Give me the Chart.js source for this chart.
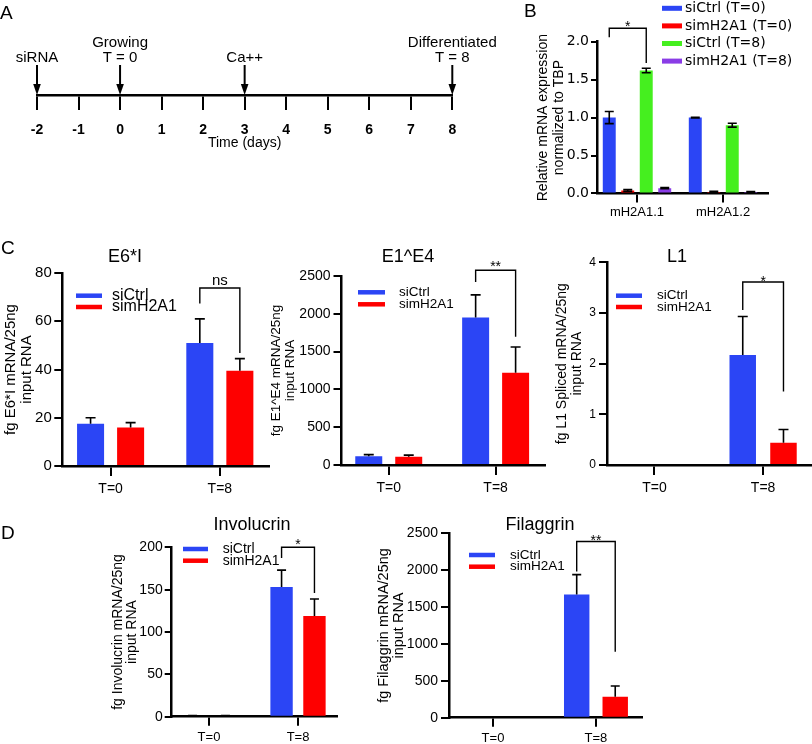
<!DOCTYPE html>
<html>
<head>
<meta charset="utf-8">
<script src="https://cdn.jsdelivr.net/npm/chart.js@4"></script>
<style>
  body { margin: 0; background: #fff; }
  #page { position: relative; width: 812px; height: 744px; overflow: hidden; background: #fff; }
  canvas { position: absolute; left: 0; top: 0; }
  .tag { position: absolute; font: 19px/19px Arial, "Liberation Sans", sans-serif; color: #000; }
</style>
</head>
<body>
<div id="page">
  <canvas id="timeline" width="812" height="744"></canvas>
  <canvas id="mh2a1" width="812" height="744"></canvas>
  <canvas id="e6" width="812" height="744"></canvas>
  <canvas id="e1e4" width="812" height="744"></canvas>
  <canvas id="l1" width="812" height="744"></canvas>
  <canvas id="inv" width="812" height="744"></canvas>
  <canvas id="fil" width="812" height="744"></canvas>
  <div class="tag" style="left:0px;top:2.5px">A</div>
  <div class="tag" style="left:524px;top:0.8px">B</div>
  <div class="tag" style="left:1px;top:238px">C</div>
  <div class="tag" style="left:1px;top:522.5px">D</div>
</div>
<script>
// A: timeline
const days = [-2, -1, 0, 1, 2, 3, 4, 5, 6, 7, 8];
const eventDays = [-2, 0, 3, 8];
const eventNotes = [['siRNA'], ['Growing', 'T = 0'], ['Ca++'], ['Differentiated', 'T = 8']];

// B: mH2A1 knockdown
const genes = ['mH2A1.1', 'mH2A1.2'];
const bLabels = ['siCtrl (T=0)', 'simH2A1 (T=0)', 'siCtrl (T=8)', 'simH2A1 (T=8)'];
const bCtrl0 = [1.0, 1.0], bCtrl0Err = [0.08, 0.005];
const bKd0 = [0.04, 0.02], bKd0Err = [0.012, 0.008];
const bCtrl8 = [1.62, 0.9], bCtrl8Err = [0.03, 0.025];
const bKd8 = [0.07, 0.02], bKd8Err = [0.008, 0.006];
const bTicks = [0, 0.5, 1, 1.5, 2];

// C and D
const times = ['T=0', 'T=8'];
const groups = ['siCtrl', 'simH2A1'];
const e6Ctrl = [17.5, 51], e6CtrlErr = [2.5, 10], e6Kd = [16, 39.5], e6KdErr = [2, 5];
const e6Ticks = [0, 20, 40, 60, 80];
const e1Ctrl = [115, 1950], e1CtrlErr = [22, 300], e1Kd = [110, 1220], e1KdErr = [20, 340];
const e1Ticks = [0, 500, 1000, 1500, 2000, 2500];
const l1Ctrl = [0, 2.17], l1CtrlErr = [0, 0.76], l1Kd = [0, 0.44], l1KdErr = [0, 0.26];
const l1Ticks = [0, 1, 2, 3, 4];
const invCtrl = [1, 153], invCtrlErr = [0.5, 20], invKd = [1, 119], invKdErr = [0.5, 20];
const invTicks = [0, 50, 100, 150, 200];
const filCtrl = [0, 1670], filCtrlErr = [0, 270], filKd = [0, 285], filKdErr = [0, 145];
const filTicks = [0, 500, 1000, 1500, 2000, 2500];

const blue = '#2b45f5', red = '#fe0000', green = '#45ef1f', purple = '#8a3ce6';
const FAM = 'Arial, "Liberation Sans", sans-serif';
const W = 812, H = 744;

Chart.defaults.font.family = FAM;
Chart.defaults.color = '#000';

// error bars, brackets, line legends, free texts, timeline arrows
const extras = {
  id: 'extras',
  afterDatasetsDraw(chart, args, o) {
    if (!o.cap) return;
    const ctx = chart.ctx, y = chart.scales.y;
    ctx.save();
    ctx.strokeStyle = '#000';
    ctx.lineWidth = 1.6;
    chart.data.datasets.forEach((ds, d) => {
      if (!ds.errors) return;
      chart.getDatasetMeta(d).data.forEach((bar, i) => {
        const v = ds.data[i].y, e = ds.errors[i];
        if (!e) return;
        const top = y.getPixelForValue(v + e);
        const bot = o.both ? y.getPixelForValue(v - e) : bar.y;
        ctx.beginPath();
        ctx.moveTo(bar.x, bot);
        ctx.lineTo(bar.x, top);
        ctx.moveTo(bar.x - o.cap / 2, top);
        ctx.lineTo(bar.x + o.cap / 2, top);
        if (o.both) {
          ctx.moveTo(bar.x - o.cap / 2, bot);
          ctx.lineTo(bar.x + o.cap / 2, bot);
        }
        ctx.stroke();
      });
    });
    ctx.restore();
  },
  afterDraw(chart, args, o) {
    const ctx = chart.ctx;
    ctx.save();
    (o.brackets || []).forEach(b => {
      const y = chart.scales.y;
      const p = chart.getDatasetMeta(b.from[0]).data[b.from[1]];
      const q = chart.getDatasetMeta(b.to[0]).data[b.to[1]];
      const top = y.getPixelForValue(b.top);
      ctx.strokeStyle = '#000';
      ctx.lineWidth = 1.4;
      ctx.beginPath();
      ctx.moveTo(p.x, y.getPixelForValue(b.ends[0]));
      ctx.lineTo(p.x, top);
      ctx.lineTo(q.x, top);
      ctx.lineTo(q.x, y.getPixelForValue(b.ends[1]));
      ctx.stroke();
      ctx.fillStyle = '#000';
      ctx.font = b.font || '14px ' + FAM;
      ctx.textAlign = 'center';
      ctx.textBaseline = 'alphabetic';
      ctx.fillText(b.text, (p.x + q.x) / 2, top + b.dy);
    });
    if (o.legend) {
      const L = o.legend;
      ctx.font = L.font;
      ctx.textAlign = 'left';
      ctx.textBaseline = 'middle';
      chart.data.datasets.forEach((ds, i) => {
        const yy = L.y + i * L.dy;
        ctx.fillStyle = ds.backgroundColor;
        ctx.fillRect(L.x, yy - L.thick / 2, L.len, L.thick);
        ctx.fillStyle = '#000';
        ctx.fillText(ds.label, L.textX, yy);
      });
    }
    (o.texts || []).forEach(t => {
      ctx.fillStyle = '#000';
      ctx.font = t.font;
      ctx.textAlign = 'center';
      ctx.textBaseline = 'alphabetic';
      ctx.fillText(t.text, t.x, t.y);
    });
    if (o.arrows) {
      const A = o.arrows;
      chart.data.datasets.forEach((ds, d) => {
        chart.getDatasetMeta(d).data.forEach((pt, i) => {
          const x = pt.x, y0 = pt.y;
          ctx.strokeStyle = '#000';
          ctx.lineWidth = 2;
          ctx.beginPath();
          ctx.moveTo(x, y0 - A.len);
          ctx.lineTo(x, y0 - A.head + 1);
          ctx.stroke();
          ctx.fillStyle = '#000';
          ctx.beginPath();
          ctx.moveTo(x - A.half, y0 - A.head);
          ctx.lineTo(x + A.half, y0 - A.head);
          ctx.lineTo(x, y0);
          ctx.closePath();
          ctx.fill();
          ctx.font = A.font;
          ctx.textAlign = 'center';
          ctx.textBaseline = 'alphabetic';
          const notes = ds.notes[i];
          notes.forEach((t, k) => {
            ctx.fillText(t, x, y0 - A.textGap - (notes.length - 1 - k) * A.lineGap);
          });
        });
      });
    }
    ctx.restore();
  }
};
Chart.register(extras);

function bars(id, o) {
  return new Chart(document.getElementById(id), {
    type: 'bar',
    data: {
      datasets: o.series.map(s => ({
        label: s.label,
        data: s.values.map((v, i) => ({ x: i, y: v })),
        errors: s.errors,
        backgroundColor: s.color,
        borderWidth: 0,
        categoryPercentage: o.cat,
        barPercentage: o.bar
      }))
    },
    options: {
      responsive: false,
      animation: false,
      devicePixelRatio: 1,
      layout: {
        padding: { left: o.area[0] - o.yW, top: o.area[1], right: W - o.area[2], bottom: H - o.area[3] - o.xH }
      },
      plugins: { legend: { display: false }, tooltip: { enabled: false }, extras: o.extras },
      scales: {
        x: {
          type: 'linear',
          min: o.xRange[0],
          max: o.xRange[1],
          offset: false,
          afterBuildTicks: s => { s.ticks = o.cats.map((c, i) => ({ value: i })); },
          afterFit: s => { s.height = o.xH; },
          grid: { offset: false, drawOnChartArea: false, color: '#000', lineWidth: 2, tickLength: o.xTick },
          border: { color: '#000', width: 2.5 },
          ticks: { font: { size: o.xFont }, padding: o.xPad, autoSkip: false, maxRotation: 0, callback: v => o.cats[v] }
        },
        y: {
          min: o.yTicks[0],
          max: o.yTicks[o.yTicks.length - 1],
          afterBuildTicks: s => { s.ticks = o.yTicks.map(v => ({ value: v })); },
          afterFit: s => { s.width = o.yW; },
          grid: { drawOnChartArea: false, color: '#000', lineWidth: 2, tickLength: o.yTick },
          border: { color: '#000', width: 2.5 },
          ticks: { font: o.yFont, padding: o.yPad, callback: o.fmt || (v => String(v)) },
          title: { display: true, text: o.yTitle, font: o.titleFont, padding: 0 }
        }
      }
    }
  });
}

// A
new Chart(document.getElementById('timeline'), {
  type: 'scatter',
  data: {
    datasets: [{ label: 'events', data: eventDays.map(d => ({ x: d, y: 0 })), notes: eventNotes, pointRadius: 0 }]
  },
  options: {
    responsive: false,
    animation: false,
    devicePixelRatio: 1,
    layout: { padding: { left: 37, top: 30, right: W - 452.3, bottom: H - 95 - 57 } },
    plugins: {
      legend: { display: false },
      tooltip: { enabled: false },
      extras: { arrows: { len: 30, head: 11, half: 3.8, textGap: 33, lineGap: 15, font: '15px ' + FAM } }
    },
    scales: {
      x: {
        type: 'linear',
        min: days[0],
        max: days[days.length - 1],
        afterBuildTicks: s => { s.ticks = days.map(v => ({ value: v })); },
        afterFit: s => { s.height = 57; },
        grid: { drawOnChartArea: false, color: '#000', lineWidth: 2, tickLength: 15 },
        border: { color: '#000', width: 2.5 },
        ticks: { font: { size: 14, weight: 'bold' }, padding: 11.5, autoSkip: false, maxRotation: 0, callback: v => String(v) },
        title: { display: true, text: 'Time (days)', font: { size: 14 }, padding: 0 }
      },
      y: { display: false, min: 0, max: 1 }
    }
  }
});

// B
bars('mh2a1', {
  cats: genes,
  series: [
    { label: bLabels[0], values: bCtrl0, errors: bCtrl0Err, color: blue },
    { label: bLabels[1], values: bKd0, errors: bKd0Err, color: red },
    { label: bLabels[2], values: bCtrl8, errors: bCtrl8Err, color: green },
    { label: bLabels[3], values: bKd8, errors: bKd8Err, color: purple }
  ],
  area: [597, 41.7, 768, 193.5], yW: 62, xH: 30,
  xRange: [-0.465, 1.523], cat: 0.86, bar: 0.70,
  yTicks: bTicks, fmt: v => v.toFixed(1),
  yTick: 6, yPad: 2, yFont: { family: '"DejaVu Sans", sans-serif', size: 14 },
  xTick: 9, xPad: 2, xFont: 13,
  yTitle: ['Relative mRNA expression', 'normalized to TBP'], titleFont: { size: 14, lineHeight: 1.143 },
  extras: {
    cap: 9, both: true,
    brackets: [{ from: [0, 0], to: [2, 0], top: 2.177, ends: [2.06, 1.72], text: '*', dy: 2.3 }],
    legend: { x: 662, y: 8.3, dy: 17.6, len: 20, thick: 5, textX: 685, font: '14px "DejaVu Sans", sans-serif' }
  }
});

function pair(ctrl, ctrlErr, kd, kdErr) {
  return [
    { label: groups[0], values: ctrl, errors: ctrlErr, color: blue },
    { label: groups[1], values: kd, errors: kdErr, color: red }
  ];
}

// C
bars('e6', {
  cats: times, series: pair(e6Ctrl, e6CtrlErr, e6Kd, e6KdErr),
  area: [62.3, 273, 269, 466], yW: 60, xH: 40,
  xRange: [-0.442, 1.45], cat: 0.733, bar: 0.675,
  yTicks: e6Ticks, yTick: 8, yPad: 2.5, yFont: { size: 15 },
  xTick: 10, xPad: 5, xFont: 14,
  yTitle: ['fg E6*I mRNA/25ng', 'input RNA'], titleFont: { size: 15, lineHeight: 1.1 },
  extras: {
    cap: 10,
    brackets: [{ from: [0, 1], to: [1, 1], top: 73.8, ends: [67.4, 46.8], text: 'ns', font: '15px ' + FAM, dy: -2.5 }],
    legend: { x: 76, y: 295.7, dy: 11.3, len: 26, thick: 4.5, textX: 112, font: '16px ' + FAM },
    texts: [{ text: 'E6*I', x: 125, y: 262, font: '18px ' + FAM }]
  }
});

bars('e1e4', {
  cats: times, series: pair(e1Ctrl, e1CtrlErr, e1Kd, e1KdErr),
  area: [341.5, 276, 545, 465], yW: 72, xH: 40,
  xRange: [-0.442, 1.462], cat: 0.748, bar: 0.675,
  yTicks: e1Ticks, yTick: 8, yPad: 3, yFont: { size: 14 },
  xTick: 10, xPad: 5, xFont: 14,
  yTitle: ['fg E1^E4 mRNA/25ng', 'input RNA'], titleFont: { size: 13.5, lineHeight: 1.04 },
  extras: {
    cap: 10,
    brackets: [{ from: [0, 1], to: [1, 1], top: 2576, ends: [2421, 1695], text: '**', dy: 1.1 }],
    legend: { x: 358, y: 292.3, dy: 12, len: 27, thick: 4.5, textX: 399, font: '13.5px ' + FAM },
    texts: [{ text: 'E1^E4', x: 408, y: 262, font: '18px ' + FAM }]
  }
});

bars('l1', {
  cats: times, series: pair(l1Ctrl, l1CtrlErr, l1Kd, l1KdErr),
  area: [607, 262.3, 812, 465], yW: 52.5, xH: 40,
  xRange: [-0.437, 1.45], cat: 0.75, bar: 0.65,
  yTicks: l1Ticks, yTick: 8, yPad: 3, yFont: { size: 12 },
  xTick: 10, xPad: 5, xFont: 14,
  yTitle: ['fg L1 Spliced mRNA/25ng', 'input RNA'], titleFont: { size: 14, lineHeight: 1.07 },
  extras: {
    cap: 10,
    brackets: [{ from: [0, 1], to: [1, 1], top: 3.61, ends: [3.06, 1.45], text: '*', dy: 3.8 }],
    legend: { x: 616, y: 295.7, dy: 11.3, len: 26, thick: 4.5, textX: 657, font: '13.5px ' + FAM },
    texts: [{ text: 'L1', x: 677, y: 262, font: '18px ' + FAM }]
  }
});

// D
bars('inv', {
  cats: times, series: pair(invCtrl, invCtrlErr, invKd, invKdErr),
  area: [171.7, 547.3, 337, 716.7], yW: 60.7, xH: 27,
  xRange: [-0.419, 1.438], cat: 0.739, bar: 0.68,
  yTicks: invTicks, yTick: 7, yPad: 2, yFont: { size: 14 },
  xTick: 9, xPad: 4, xFont: 13,
  yTitle: ['fg Involucrin mRNA/25ng', 'input RNA'], titleFont: { size: 14, lineHeight: 1.0 },
  extras: {
    cap: 9,
    brackets: [{ from: [0, 1], to: [1, 1], top: 200, ends: [187.4, 146.1], text: '*', dy: 1.8 }],
    legend: { x: 183, y: 549, dy: 11.7, len: 25, thick: 4.5, textX: 222.7, font: '14px ' + FAM },
    texts: [{ text: 'Involucrin', x: 252, y: 530, font: '18px ' + FAM }]
  }
});

bars('fil', {
  cats: times, series: pair(filCtrl, filCtrlErr, filKd, filKdErr),
  area: [449, 533.3, 642, 717.7], yW: 72.25, xH: 26,
  xRange: [-0.427, 1.447], cat: 0.748, bar: 0.66,
  yTicks: filTicks, yTick: 8, yPad: 3, yFont: { size: 14 },
  xTick: 9, xPad: 4, xFont: 13,
  yTitle: ['fg Filaggrin mRNA/25ng', 'input RNA'], titleFont: { size: 14.5, lineHeight: 1.0 },
  extras: {
    cap: 9,
    brackets: [{ from: [0, 1], to: [1, 1], top: 2388, ends: [1981, 895], text: '**', dy: 3.9 }],
    legend: { x: 469, y: 555, dy: 11.7, len: 26, thick: 4.5, textX: 510, font: '13.5px ' + FAM },
    texts: [{ text: 'Filaggrin', x: 540, y: 530, font: '18px ' + FAM }]
  }
});
</script>
</body>
</html>
